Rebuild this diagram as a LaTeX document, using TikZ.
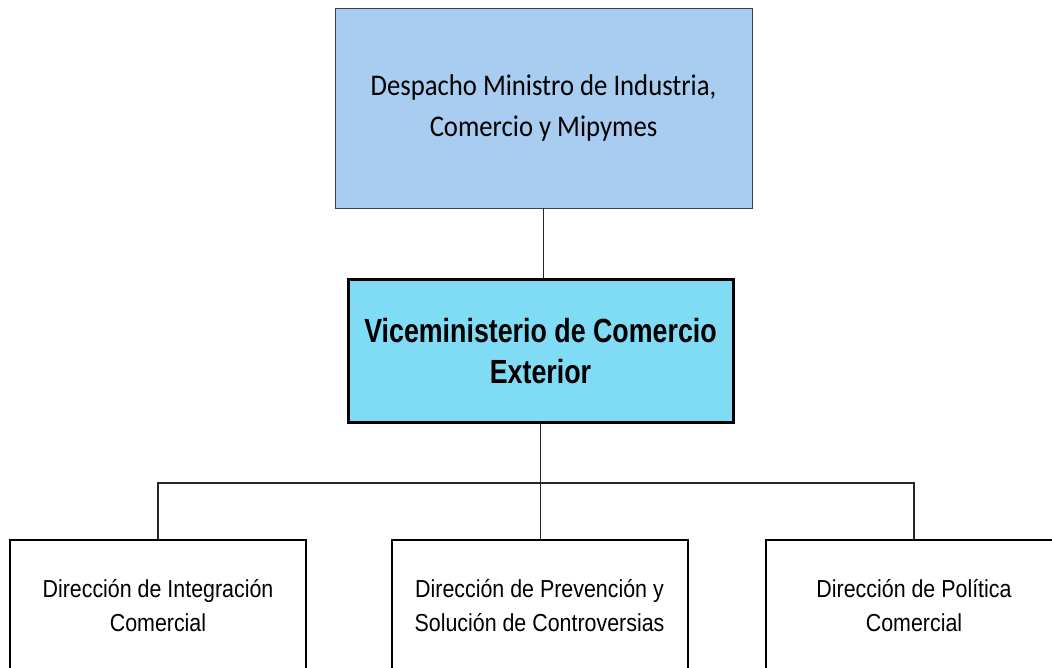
\documentclass[tikz,border=0pt]{standalone}
\usepackage{fontspec}
\newfontfamily\despfont[FakeStretch=0.89]{Carlito}
\newfontfamily\vicefont[FakeStretch=0.80]{Liberation Sans}
\newfontfamily\dirfont[FakeStretch=0.87]{Liberation Sans}
\definecolor{despblue}{RGB}{169,205,240}
\definecolor{viceblue}{RGB}{128,219,244}
\begin{document}
\begin{tikzpicture}[x=1pt,y=-1pt,
  despbox/.style={draw=black!75,line width=0.8pt,fill=despblue,minimum width=417pt,minimum height=200pt,
    inner sep=0pt,outer sep=0pt,align=center,font=\despfont\fontsize{30}{41}\selectfont},
  vicebox/.style={draw=black,line width=3pt,fill=viceblue,minimum width=385pt,minimum height=143pt,
    inner sep=0pt,outer sep=0pt,align=center,font=\vicefont\bfseries\fontsize{33.5}{41}\selectfont},
  dirbox/.style={draw=black,line width=2pt,fill=white,minimum width=296pt,minimum height=132pt,
    inner sep=0pt,outer sep=0pt,align=center,font=\dirfont\fontsize{24.6}{34}\selectfont},
  conn/.style={draw=black!85,line width=1.9pt}]
\clip (0,0) rectangle (1052,668);
\fill[white] (0,0) rectangle (1052,668);

\node[despbox] (desp) at (543.5,108) {Despacho Ministro de Industria,\\Comercio y Mipymes};
\node[vicebox] (vice) at (540.5,351) {Viceministerio de Comercio\\Exterior};

\node[dirbox] (dinteg) at (158,606) {Dirección de Integración\\Comercial};
\node[dirbox] (dprev) at (539.5,606) {Dirección de Prevención y\\Solución de Controversias};
\node[dirbox] (dpol) at (914,606) {Dirección de Política\\Comercial};

\coordinate (bus) at (540,483);

\draw[conn] (desp.south) -- (desp.south |- vice.north);
\draw[conn] (vice.south) -- (vice.south |- dprev.north);
\draw[conn] (dinteg.north) |- (bus) -| (dpol.north);
\end{tikzpicture}
\end{document}
